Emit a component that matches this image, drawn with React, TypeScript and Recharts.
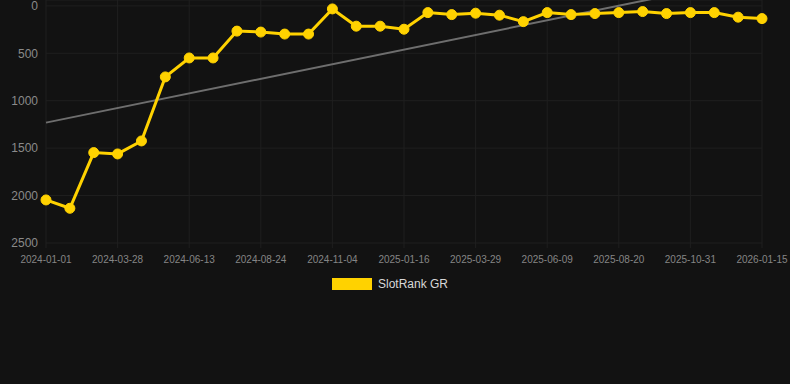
import React from 'react';
import { LineChart, Line, XAxis, YAxis, CartesianGrid, Legend } from 'recharts';

const dates = [
  '2024-01-01', '2024-01-30', '2024-02-28', '2024-03-28', '2024-04-23', '2024-05-18',
  '2024-06-13', '2024-07-07', '2024-07-31', '2024-08-24', '2024-09-17', '2024-10-11',
  '2024-11-04', '2024-11-28', '2024-12-23', '2025-01-16', '2025-02-09', '2025-03-05',
  '2025-03-29', '2025-04-22', '2025-05-16', '2025-06-09', '2025-07-03', '2025-07-27',
  '2025-08-20', '2025-09-13', '2025-10-07', '2025-10-31', '2025-11-25', '2025-12-20',
  '2026-01-15',
];

const rank = [
  2046, 2134, 1547, 1561, 1424, 749, 549, 549, 266, 276, 297, 297, 32, 214, 214, 246,
  71, 92, 77, 98, 166, 71, 92, 81, 71, 60, 81, 71, 71, 119, 134,
];

// trend line endpoints (first and last point)
const trendStart = 1231;
const trendEnd = -310;

const yTicks = [0, 500, 1000, 1500, 2000, 2500];

const data = dates.map((d, i) => ({
  date: d,
  rank: rank[i],
  trend: i === 0 ? trendStart : i === dates.length - 1 ? trendEnd : null,
}));

const LegendBox = () => (
  <div style={{ display: 'flex', justifyContent: 'center', alignItems: 'center', paddingRight: 10 }}>
    <span style={{ width: 40, height: 12, background: '#FFD200', display: 'inline-block', marginRight: 6 }} />
    <span style={{ color: '#d8d8d8', fontSize: 12 }}>SlotRank GR</span>
  </div>
);

const App: React.FC = () => {
  return (
    <div
      style={{
        position: 'fixed',
        left: 0,
        top: 0,
        width: 790,
        height: 384,
        background: '#121212',
        fontFamily: '"Liberation Sans", Arial, sans-serif',
      }}
    >
      <LineChart width={790} height={384} data={data} margin={{ top: 0, right: 28, left: 0, bottom: 111 }}>
        <CartesianGrid stroke="#1f1f1f" strokeWidth={1} />
        <XAxis
          dataKey="date"
          interval={2}
          axisLine={false}
          tickLine={{ stroke: '#1f1f1f' }}
          tickSize={5}
          tickMargin={8}
          tick={{ fill: '#858585', fontSize: 10 }}
        />
        <YAxis
          width={46}
          reversed
          domain={[-62, 2500]}
          allowDataOverflow
          ticks={yTicks}
          interval={0}
          axisLine={false}
          tickLine={false}
          tick={{ fill: '#8a8a8a', fontSize: 12 }}
        />
        <Legend verticalAlign="middle" align="center" wrapperStyle={{ top: 277, left: 0, width: 790 }} content={() => <LegendBox />} />
        <Line
          type="linear"
          dataKey="trend"
          stroke="#6e6e6e"
          strokeWidth={2}
          dot={false}
          connectNulls
          isAnimationActive={false}
          legendType="none"
        />
        <Line
          type="linear"
          dataKey="rank"
          name="SlotRank GR"
          stroke="#FFD200"
          strokeWidth={3}
          dot={{ r: 5, fill: '#FFD200', stroke: '#FFD200', strokeWidth: 1 }}
          isAnimationActive={false}
        />
      </LineChart>
    </div>
  );
};

export default App;
